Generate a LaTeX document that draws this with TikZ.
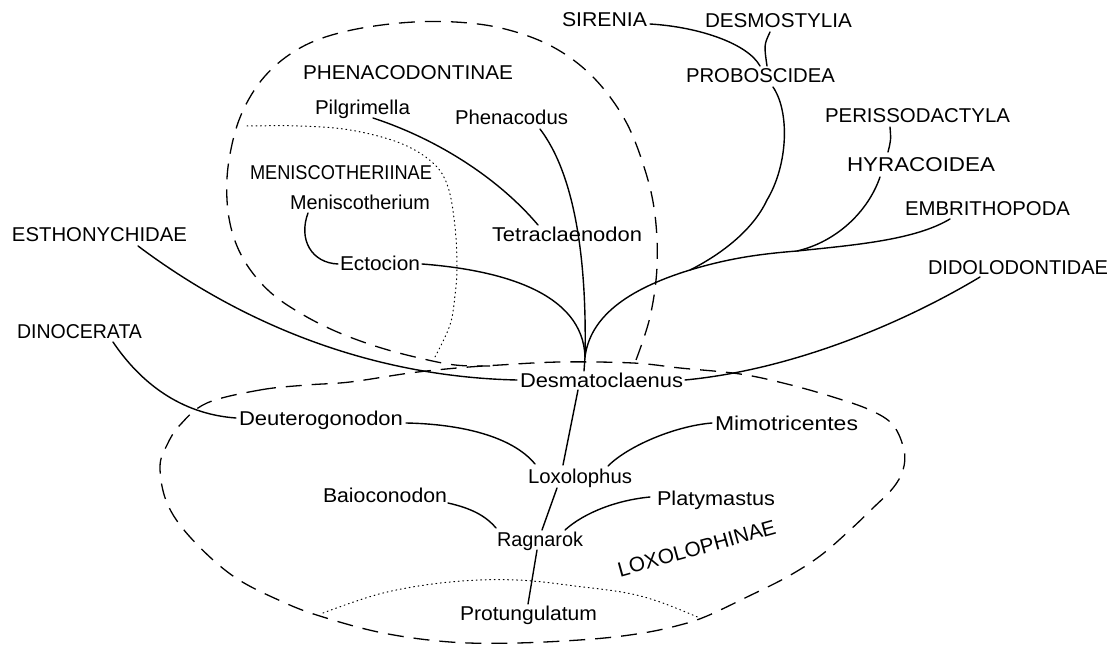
\documentclass[tikz,border=0pt]{standalone}
\usepackage{fontspec}
\setmainfont{Liberation Sans}
\usepackage{graphicx}
\usetikzlibrary{calc}
\newlength\fitlen
\newcommand\fitto[2]{\settowidth{\fitlen}{#2}\pgfmathsetmacro\fitfac{#1/\fitlen}\scalebox{\fitfac}[1]{#2}}
\begin{document}
\begin{tikzpicture}[x=1pt,y=-1pt,
  lab/.style={inner sep=0pt, outer sep=0pt, anchor=base west, font=\fontsize{20}{22}\selectfont},
  branch/.style={line width=1.4pt, line cap=round},
  loopline/.style={line width=1.3pt, dash pattern=on 16pt off 10pt},
  dotline/.style={line width=1pt, dash pattern=on 0.9pt off 3.6pt, line cap=round}]
\fill[white] (0,0) rectangle (1114,647);
\useasboundingbox (0,0) rectangle (1114,647);

% ---- labels
\node[lab] (sir)   at (562,27)  {\fitto{85}{SIRENIA}};
\node[lab] (desm)  at (705,28)  {\fitto{147}{DESMOSTYLIA}};
\node[lab] (prob)  at (686,83)  {\fitto{149}{PROBOSCIDEA}};
\node[lab] (phenI) at (303,80)  {\fitto{210}{PHENACODONTINAE}};
\node[lab] (pilg)  at (315,115) {\fitto{95}{Pilgrimella}};
\node[lab] (phen)  at (455,125) {\fitto{113}{Phenacodus}};
\node[lab] (peri)  at (825,123) {\fitto{185}{PERISSODACTYLA}};
\node[lab] (hyr)   at (847,172) {\fitto{148}{HYRACOIDEA}};
\node[lab] (menI)  at (250,180) {\fitto{182}{MENISCOTHERIINAE}};
\node[lab] (meni)  at (290,210) {\fitto{140}{Meniscotherium}};
\node[lab] (emb)   at (905,216) {\fitto{165}{EMBRITHOPODA}};
\node[lab] (esth)  at (12,242)  {\fitto{175}{ESTHONYCHIDAE}};
\node[lab] (tetr)  at (492,242) {\fitto{150}{Tetraclaenodon}};
\node[lab] (ecto)  at (340,270) {\fitto{80}{Ectocion}};
\node[lab] (dido)  at (928,275) {\fitto{180}{DIDOLODONTIDAE}};
\node[lab] (dino)  at (17,338)  {\fitto{125}{DINOCERATA}};
\node[lab] (dsm)   at (520,387) {\fitto{163}{Desmatoclaenus}};
\node[lab] (deut)  at (239,425) {\fitto{164}{Deuterogonodon}};
\node[lab] (mimo)  at (715,430) {\fitto{143}{Mimotricentes}};
\node[lab] (loxo)  at (528,483) {\fitto{104}{Loxolophus}};
\node[lab] (baio)  at (323,502) {\fitto{124}{Baioconodon}};
\node[lab] (platy) at (657,505) {\fitto{118}{Platymastus}};
\node[lab] (ragn)  at (497,546) {\fitto{86}{Ragnarok}};
\node[lab] (prot)  at (460,620) {\fitto{137}{Protungulatum}};
\node[lab, rotate=15.5, font=\fontsize{20.8}{22}\selectfont] (loxI) at (620,577) {LOXOLOPHINAE};

% ---- junctions
\coordinate (cusp) at (585,357);
\coordinate (jP) at (690,270);
\coordinate (jH) at (797,251);

% ---- dashed groupings
\draw[loopline] plot[smooth, tension=0.6] coordinates {(636,360) (650,317) (657,267) (655,215) (645,170) (625,120) (593,77) (553,47) (505,29) (455,22) (400,23) (343,32) (300,48) (265,76) (241,115) (229,160) (227,200) (233,235) (247,265) (270,292) (300,313) (335,331) (375,346) (415,357) (455,365) (490,366)};
\draw[loopline] plot[smooth cycle, tension=0.6] coordinates {(207,403) (260,390) (307,385) (350,382) (410,373) (457,368) (500,365) (560,362) (633,363) (680,368) (740,374) (787,384) (833,397) (870,410) (893,425) (904,450) (903,470) (893,488) (873,508) (850,530) (820,556) (787,577) (747,597) (707,616) (680,625) (643,633) (593,639) (517,643) (450,642) (383,633) (323,617) (283,602) (233,576) (190,537) (167,503) (160,467) (167,445) (180,425)};

% ---- dotted
\draw[dotline] plot[smooth, tension=0.6] coordinates {(247,126) (300,126) (350,130) (400,143) (433,163) (448,187) (455,227) (457,267) (455,295) (450,325) (435,357)};
\draw[dotline] plot[smooth, tension=0.6] coordinates {(323,613) (383,593) (450,582) (517,580) (583,587) (627,593) (660,602) (700,618)};

% ---- branches
\draw[branch] ($(sir.base east)+(3,-3)$) .. controls (700,27) and (748,44) .. ($(prob.base west)+(74,-17)$);
\draw[branch] ($(desm.base west)+(65,4)$) .. controls (764,45) .. ($(prob.base west)+(81,-17)$);
\draw[branch] ($(prob.base west)+(87,4)$) .. controls (790,112) and (788,165) .. (767,200) .. controls (752,232) and (718,256) .. (jP);
\draw[branch] (cusp) .. controls (590,318) and (625,290) .. (jP) .. controls (730,258) and (760,254) .. (jH) .. controls (855,245) and (915,240) .. ($(emb.base west)+(45,3)$);
\draw[branch] ($(hyr.base west)+(33,5)$) .. controls (868,212) and (836,242) .. (jH);
\draw[branch] ($(peri.base west)+(65,4)$) .. controls (891,140) .. ($(hyr.base west)+(41,-20)$);
\draw[branch] ($(dido.base west)+(52,2)$) .. controls (900,325) and (790,370) .. ($(dsm.base east)+(2,-7)$);
\draw[branch] ($(phen.base west)+(85,4)$) .. controls (575,175) and (587,260) .. (cusp);
\draw[branch] ($(pilg.base west)+(58,3)$) .. controls (440,140) and (500,180) .. ($(tetr.base west)+(46,-17)$);
\draw[branch] ($(meni.base west)+(18,3)$) .. controls (298,240) and (312,263) .. ($(ecto.base west)+(-2,-6)$);
\draw[branch] ($(ecto.base east)+(2,-6)$) .. controls (500,270) and (583,292) .. (cusp);
\draw[branch] (cusp) -- ($(dsm.base west)+(64,-16)$);
\draw[branch] ($(esth.base west)+(126,4)$) .. controls (250,330) and (380,377) .. ($(dsm.base west)+(-3,-7)$);
\draw[branch] ($(dsm.base west)+(58,3)$) -- ($(loxo.base west)+(35,-18)$);
\draw[branch] ($(loxo.base west)+(29,5)$) -- ($(ragn.base west)+(45,-16)$);
\draw[branch] ($(ragn.base west)+(40,4)$) -- ($(prot.base west)+(68,-16)$);
\draw[branch] ($(dino.base west)+(96,4)$) .. controls (140,382) and (180,414) .. ($(deut.base west)+(-3,-7)$);
\draw[branch] ($(deut.base east)+(3,-2)$) .. controls (460,424) and (512,436) .. ($(loxo.base west)+(7,-19)$);
\draw[branch] ($(baio.base east)+(1,1)$) .. controls (470,508) and (485,515) .. ($(ragn.base west)+(-1,-18)$);
\draw[branch] ($(mimo.base west)+(-3,-7)$) .. controls (675,426) and (628,446) .. ($(loxo.base west)+(80,-17)$);
\draw[branch] ($(platy.base west)+(-7,-8)$) .. controls (618,500) and (585,512) .. ($(ragn.base west)+(68,-16)$);
\end{tikzpicture}
\end{document}
